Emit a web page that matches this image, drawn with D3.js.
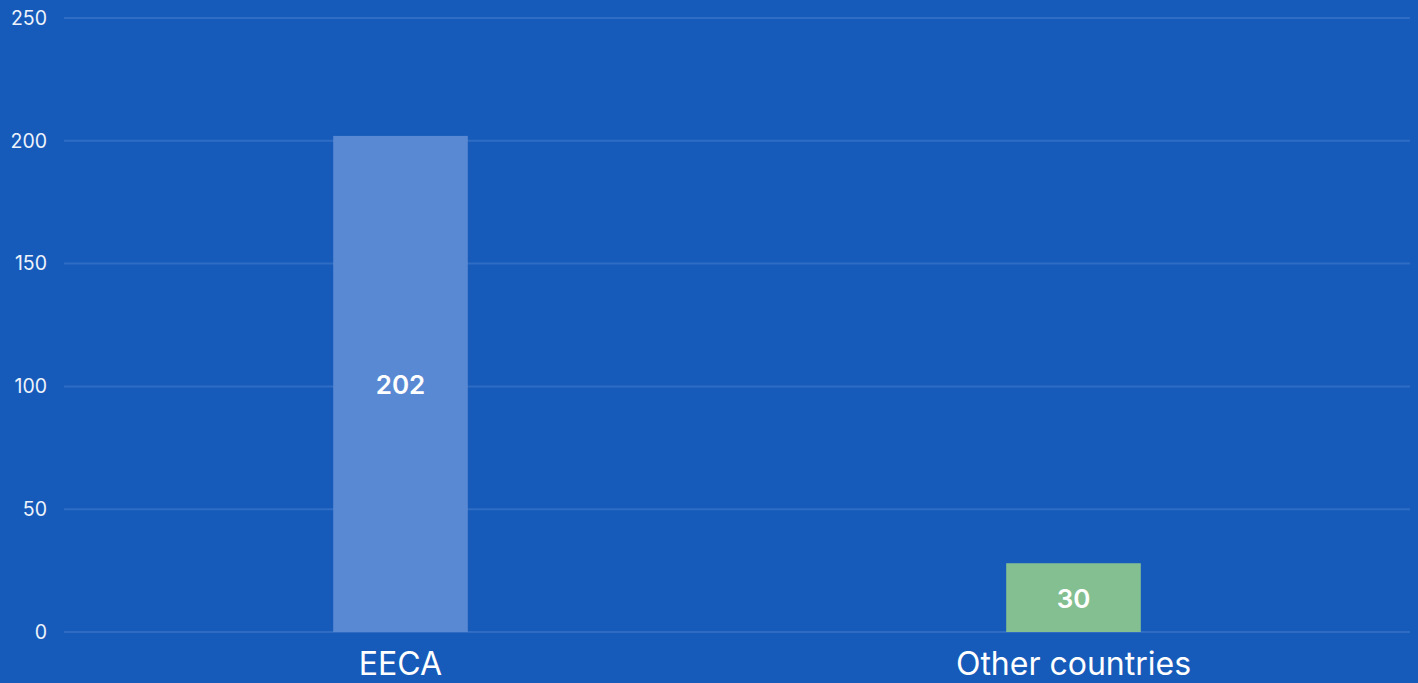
<!DOCTYPE html>
<html>
<head>
<meta charset="utf-8">
<script src="https://cdn.jsdelivr.net/npm/d3@7"></script>
<style>
  html, body { margin: 0; padding: 0; background: #165bba; overflow: hidden; }
  svg { display: block; font-family: Inter, "Noto Sans", sans-serif; }
</style>
</head>
<body>
<script>
const categories = ["EECA", "Other countries"];
const values = [202, 28];
const valueLabels = ["202", "30"];
const barColors = ["#5a89d3", "#84bf91"];
const yTicks = [0, 50, 100, 150, 200, 250];

const width = 1418, height = 683;
const margin = { top: 18, right: 8, bottom: 51, left: 64 };

const svg = d3.select("body").append("svg")
  .attr("width", width)
  .attr("height", height);

svg.append("rect").attr("width", width).attr("height", height).attr("fill", "#165bba");

const x = d3.scaleBand()
  .domain(categories)
  .range([margin.left, width - margin.right])
  .paddingInner(0.8)
  .paddingOuter(0.4);

const y = d3.scaleLinear()
  .domain([0, 250])
  .range([height - margin.bottom, margin.top]);

// gridlines
svg.append("g")
  .selectAll("line")
  .data(yTicks)
  .join("line")
  .attr("x1", margin.left)
  .attr("x2", width - margin.right)
  .attr("y1", d => y(d))
  .attr("y2", d => y(d))
  .attr("stroke", "#2f6cc4")
  .attr("stroke-width", 2);

// y tick labels
svg.append("g")
  .selectAll("text")
  .data(yTicks)
  .join("text")
  .attr("x", 47)
  .attr("y", d => y(d))
  .attr("dy", "0.35em")
  .attr("text-anchor", "end")
  .attr("fill", "#eef3fb")
  .attr("font-size", 19.5)
  .text(d => d);

// bars
svg.append("g")
  .selectAll("rect")
  .data(categories)
  .join("rect")
  .attr("x", d => x(d))
  .attr("width", x.bandwidth())
  .attr("y", (d, i) => y(values[i]))
  .attr("height", (d, i) => y(0) - y(values[i]))
  .attr("fill", (d, i) => barColors[i]);

// value labels
svg.append("g")
  .selectAll("text")
  .data(categories)
  .join("text")
  .attr("x", d => x(d) + x.bandwidth() / 2)
  .attr("y", (d, i) => (y(values[i]) + y(0)) / 2 + 1)
  .attr("dy", "0.35em")
  .attr("text-anchor", "middle")
  .attr("fill", "#ffffff")
  .attr("font-size", 26)
  .attr("font-weight", 600)
  .text((d, i) => valueLabels[i]);

// category labels
svg.append("g")
  .selectAll("text")
  .data(categories)
  .join("text")
  .attr("x", d => x(d) + x.bandwidth() / 2)
  .attr("y", 675)
  .attr("text-anchor", "middle")
  .attr("fill", "#ffffff")
  .attr("font-size", 32)
  .text(d => d);
</script>
</body>
</html>
